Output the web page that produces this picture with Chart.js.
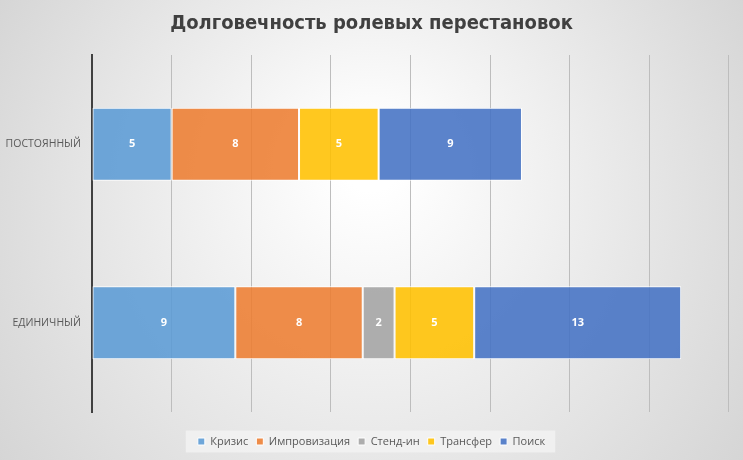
<!DOCTYPE html>
<html>
<head>
<meta charset="utf-8">
<script src="https://cdn.jsdelivr.net/npm/chart.js@4/dist/chart.umd.min.js"></script>
<style>
  html, body { margin: 0; padding: 0; }
  #wrap { width: 743px; height: 460px; }
</style>
</head>
<body>
<div id="wrap"><canvas id="chart"></canvas></div>
<script>
// Долговечность ролевых перестановок

var categories = ['ПОСТОЯННЫЙ', 'ЕДИНИЧНЫЙ'];
var seriesNames = ['Кризис', 'Импровизация', 'Стенд-ин', 'Трансфер', 'Поиск'];
var krizis = [5, 9];
var improvizaciya = [8, 8];
var stendIn = [0, 2];
var transfer = [5, 5];
var poisk = [9, 13];
var xTicks = [0, 5, 10, 15, 20, 25, 30, 35, 40];

var colors = ['rgba(91,155,213,0.88)', 'rgba(237,125,49,0.88)', 'rgba(165,165,165,0.9)',
              'rgba(255,192,0,0.88)', 'rgba(68,114,196,0.88)'];
var values = [krizis, improvizaciya, stendIn, transfer, poisk];

// background gradient + legend box
var backdrop = {
    id: 'backdrop',
    beforeDraw: function (chart) {
        var c = chart.ctx, w = chart.width, h = chart.height;
        var g = c.createRadialGradient(w * 0.5, h * 0.35, 30, w * 0.5, h * 0.5, w * 0.62);
        g.addColorStop(0, '#ffffff');
        g.addColorStop(1, '#d3d3d3');
        c.save();
        c.fillStyle = g;
        c.fillRect(0, 0, w, h);
        var boxes = chart.legend.legendHitBoxes || [];
        if (boxes.length) {
            var l = boxes[0].left, r = boxes[0].left + boxes[0].width;
            var cy = boxes[0].top + boxes[0].height / 2;
            boxes.forEach(function (b) { r = Math.max(r, b.left + b.width); l = Math.min(l, b.left); });
            c.fillStyle = 'rgba(242,242,242,0.85)';
            c.fillRect(l - 12, cy - 11, r - l + 22, 22);
        }
        c.restore();
    }
};

// value labels inside bars
var barLabels = {
    id: 'barLabels',
    afterDatasetsDraw: function (chart) {
        var c = chart.ctx;
        c.save();
        c.font = 'bold 11px "Open Sans", sans-serif';
        c.fillStyle = '#ffffff';
        c.textAlign = 'center';
        c.textBaseline = 'middle';
        chart.data.datasets.forEach(function (ds, i) {
            chart.getDatasetMeta(i).data.forEach(function (bar, j) {
                var v = ds.data[j];
                if (!v) return;
                c.fillText(String(v), (bar.x + bar.base) / 2, bar.y);
            });
        });
        c.restore();
    }
};

var ctx = document.getElementById('chart').getContext('2d');
var myChart = new Chart(ctx, {
    type: 'bar',
    data: {
        labels: categories,
        datasets: seriesNames.map(function (name, i) {
            return {
                label: name,
                data: values[i],
                backgroundColor: colors[i],
                borderColor: '#ffffff',
                borderWidth: 1,
                borderSkipped: false,
                categoryPercentage: 0.8,
                barPercentage: 0.51
            };
        })
    },
    options: {
        indexAxis: 'y',
        responsive: true,
        maintainAspectRatio: false,
        animation: false,
        layout: { padding: { left: 0, right: 0, top: 4, bottom: 3 } },
        plugins: {
            title: {
                display: true,
                text: 'Долговечность ролевых перестановок',
                color: '#404040',
                font: { family: '"DejaVu Sans Condensed", "Open Sans", sans-serif', size: 20, weight: 'bold' },
                padding: { top: 8, bottom: 19 }
            },
            legend: {
                position: 'bottom',
                labels: {
                    color: '#595959',
                    font: { family: '"Open Sans", sans-serif', size: 11 },
                    boxWidth: 7,
                    boxHeight: 7,
                    padding: 8
                }
            },
            tooltip: { enabled: false }
        },
        scales: {
            x: {
                stacked: true,
                min: 0,
                max: 40.88,
                afterBuildTicks: function (axis) {
                    axis.ticks = xTicks.map(function (v) { return { value: v }; });
                },
                afterFit: function (axis) { axis.height = 16; },
                ticks: { display: false },
                grid: { color: '#bdbdbd', lineWidth: 1, drawTicks: false },
                border: { display: false }
            },
            y: {
                stacked: true,
                afterFit: function (axis) { axis.width = 92; },
                ticks: {
                    color: '#595959',
                    font: { family: '"Open Sans", sans-serif', size: 10.5 },
                    padding: 11
                },
                grid: { display: false, drawTicks: false },
                border: { display: true, color: '#404040', width: 2 }
            }
        }
    },
    plugins: [backdrop, barLabels]
});
</script>
</body>
</html>
